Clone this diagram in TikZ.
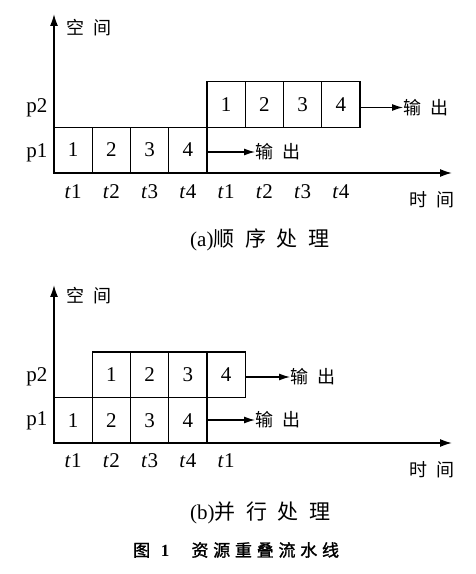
\documentclass[tikz,border=0pt]{standalone}
\usepackage{fontspec}
\setmainfont{Liberation Serif}
\newfontfamily\cjk[LetterSpace=50]{Noto Sans CJK SC}
\newfontfamily\cjkbf[LetterSpace=28,FakeBold=1.5]{Noto Sans CJK SC}
\usetikzlibrary{arrows.meta, positioning}

\begin{document}
\begin{tikzpicture}[
    x=1pt, y=1pt,
    cell/.style={
        rectangle,
        draw,
        line width=1.2pt,
        minimum width=38.25pt,
        minimum height=45.5pt,
        inner sep=0pt,
        font=\fontsize{21}{21}\selectfont
    },
    axis/.style={{Latex[length=12pt,width=8pt]}-{Latex[length=12pt,width=8pt]}, line width=1.6pt},
    arrow/.style={-{Latex[length=11pt,width=7pt]}, line width=1.2pt},
    lbl/.style={inner sep=0pt, font=\fontsize{21}{21}\selectfont},
    cn/.style={inner sep=0pt, font=\cjk\fontsize{18}{18}\selectfont}
]
\useasboundingbox (0,0) rectangle (476,574);

% (a) sequential
\coordinate (aY) at (54,560);
\coordinate (aX) at (452,401);
\draw[axis] (aY) |- (aX);

\foreach \i in {1,...,4}
    \node[cell] (a1\i) at ({54+38.25*(\i-0.5)}, 424) {\i};
\foreach \i in {1,...,4}
    \node[cell] (a2\i) at ({207+38.25*(\i-0.5)}, 469.5) {\i};

\node[cn, anchor=west] (aspace) at (66,546) {空间};
\node[lbl] (ap2) at (37,466) {p2};
\node[lbl] (ap1) at (37,421) {p1};
\foreach \i/\n in {1/1,2/2,3/3,4/4,5/1,6/2,7/3,8/4}
    \node[lbl] (at\i) at ({54+38.25*(\i-0.5)}, 382) {\textit{t}\n};
\node[cn, anchor=west] (atime) at (409,374) {时间};

\node[cn, anchor=west] (aout1) at (255,422) {输出};
\node[cn, anchor=west] (aout2) at (403,466.5) {输出};
\draw[arrow] (a14.east |- aout1) -- (aout1.west);
\draw[arrow] (a24.east |- aout2) -- (aout2.west);

\node[lbl, anchor=west] (acap) at (190,334) {(a)\cjk 顺序处理};

% (b) parallel
\coordinate (bY) at (54,289);
\coordinate (bX) at (452,131);
\draw[axis] (bY) |- (bX);

\foreach \i in {1,...,4}
    \node[cell] (b1\i) at ({54+38.25*(\i-0.5)}, 153.75) {\i};
\foreach \i in {1,...,4}
    \node[cell] (b2\i) at ({92.25+38.25*(\i-0.5)}, 199.25) {\i};

\node[cn, anchor=west] (bspace) at (66,278) {空间};
\node[lbl] (bp2) at (37,197) {p2};
\node[lbl] (bp1) at (37,153) {p1};
\foreach \i/\n in {1/1,2/2,3/3,4/4,5/1}
    \node[lbl] (bt\i) at ({54+38.25*(\i-0.5)}, 113) {\textit{t}\n};
\node[cn, anchor=west] (btime) at (409,104) {时间};

\node[cn, anchor=west] (bout1) at (255,154) {输出};
\node[cn, anchor=west] (bout2) at (290,197) {输出};
\draw[arrow] (b14.east |- bout1) -- (bout1.west);
\draw[arrow] (b24.east |- bout2) -- (bout2.west);

\node[lbl, anchor=west] (bcap) at (190,61) {(b)\cjk 并行处理};

% figure caption
\node[anchor=west, inner sep=0pt, font=\fontsize{17}{17}\selectfont] (fig) at (133,24)
    {{\cjkbf 图}\hspace{6pt}\textbf{1}\hspace{22pt}{\cjkbf 资源重叠流水线}};

\end{tikzpicture}
\end{document}
